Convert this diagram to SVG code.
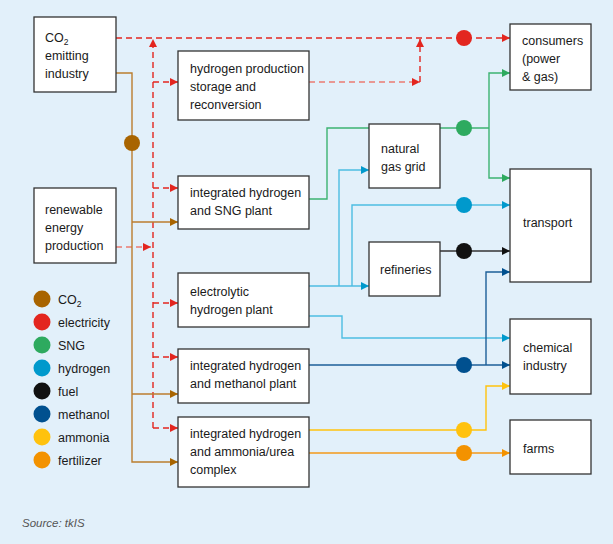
<svg xmlns="http://www.w3.org/2000/svg" width="613" height="544" viewBox="0 0 613 544">
<style>
.box{fill:#fff;stroke:#333;stroke-width:1.3}
.t{font-family:"Liberation Sans",Arial,sans-serif;font-size:12.5px;fill:#1a1a1a}
.ln{fill:none;stroke-width:1.4}
.red{stroke:#e3261f;stroke-dasharray:6 4}
.redl{stroke:#ec7b72;stroke-dasharray:6 4}
.brown{stroke:#bb7d2e}
.green{stroke:#3cb371}
.h2{stroke:#4dbde2}
.fuel{stroke:#333}
.meth{stroke:#1d5f98}
.amm{stroke:#ffc20e}
.fert{stroke:#f39a1a}
</style>
<defs>
<marker id="aRed" viewBox="0 0 8 8" refX="8" refY="4" markerWidth="8" markerHeight="8" markerUnits="userSpaceOnUse" orient="auto"><path d="M0,0L8,4L0,8z" fill="#e3261f"/></marker>
<marker id="aBrown" viewBox="0 0 8 8" refX="8" refY="4" markerWidth="8" markerHeight="8" markerUnits="userSpaceOnUse" orient="auto"><path d="M0,0L8,4L0,8z" fill="#a86400"/></marker>
<marker id="aGreen" viewBox="0 0 8 8" refX="8" refY="4" markerWidth="8" markerHeight="8" markerUnits="userSpaceOnUse" orient="auto"><path d="M0,0L8,4L0,8z" fill="#2eaa5f"/></marker>
<marker id="aH2" viewBox="0 0 8 8" refX="8" refY="4" markerWidth="8" markerHeight="8" markerUnits="userSpaceOnUse" orient="auto"><path d="M0,0L8,4L0,8z" fill="#0099cc"/></marker>
<marker id="aFuel" viewBox="0 0 8 8" refX="8" refY="4" markerWidth="8" markerHeight="8" markerUnits="userSpaceOnUse" orient="auto"><path d="M0,0L8,4L0,8z" fill="#111"/></marker>
<marker id="aMeth" viewBox="0 0 8 8" refX="8" refY="4" markerWidth="8" markerHeight="8" markerUnits="userSpaceOnUse" orient="auto"><path d="M0,0L8,4L0,8z" fill="#00508f"/></marker>
<marker id="aAmm" viewBox="0 0 8 8" refX="8" refY="4" markerWidth="8" markerHeight="8" markerUnits="userSpaceOnUse" orient="auto"><path d="M0,0L8,4L0,8z" fill="#ffc20e"/></marker>
<marker id="aFert" viewBox="0 0 8 8" refX="8" refY="4" markerWidth="8" markerHeight="8" markerUnits="userSpaceOnUse" orient="auto"><path d="M0,0L8,4L0,8z" fill="#f39200"/></marker>
</defs>
<rect width="613" height="544" fill="#e2f0fa"/>

<g id="connectors">
  <!-- electricity -->
  <path class="ln red" d="M116,38H510" marker-end="url(#aRed)"/>
  <path class="ln red" d="M153,428V39" marker-end="url(#aRed)"/>
  <path class="ln red" d="M153,82H178" marker-end="url(#aRed)"/>
  <path class="ln red" d="M153,188H178" marker-end="url(#aRed)"/>
  <path class="ln red" d="M153,303H178" marker-end="url(#aRed)"/>
  <path class="ln red" d="M153,357H178" marker-end="url(#aRed)"/>
  <path class="ln red" d="M153,428H178" marker-end="url(#aRed)"/>
  <path class="ln redl" d="M116,247H151" marker-end="url(#aRed)"/>
  <path class="ln redl" d="M309,82H420" marker-end="url(#aRed)"/>
  <path class="ln red" d="M420,82V39" marker-end="url(#aRed)"/>
  <!-- CO2 -->
  <path class="ln brown" d="M116,73H132V462H178" marker-end="url(#aBrown)"/>
  <path class="ln brown" d="M132,222H178" marker-end="url(#aBrown)"/>
  <path class="ln brown" d="M132,394H178" marker-end="url(#aBrown)"/>
  <!-- SNG -->
  <path class="ln green" d="M309,199H327V128H369"/>
  <path class="ln green" d="M440,128H489"/>
  <path class="ln green" d="M489,128V73H510" marker-end="url(#aGreen)"/>
  <path class="ln green" d="M489,128V178H510" marker-end="url(#aGreen)"/>
  <!-- hydrogen -->
  <path class="ln h2" d="M309,286H369" marker-end="url(#aH2)"/>
  <path class="ln h2" d="M339,286V170H369" marker-end="url(#aH2)"/>
  <path class="ln h2" d="M352,286V205H510" marker-end="url(#aH2)"/>
  <path class="ln h2" d="M309,316H342V338H510" marker-end="url(#aH2)"/>
  <!-- fuel -->
  <path class="ln fuel" d="M440,251H510" marker-end="url(#aFuel)"/>
  <!-- methanol -->
  <path class="ln meth" d="M309,365H510" marker-end="url(#aMeth)"/>
  <path class="ln meth" d="M486,365V272H510" marker-end="url(#aMeth)"/>
  <!-- ammonia -->
  <path class="ln amm" d="M309,430H486V386H510" marker-end="url(#aAmm)"/>
  <!-- fertilizer -->
  <path class="ln fert" d="M309,453H510" marker-end="url(#aFert)"/>
  <!-- flow dots -->
  <circle cx="464" cy="38" r="8" fill="#e3261f"/>
  <circle cx="132" cy="143" r="8" fill="#a86400"/>
  <circle cx="464" cy="128" r="8" fill="#2eaa5f"/>
  <circle cx="464" cy="205" r="8" fill="#0099cc"/>
  <circle cx="464" cy="251" r="8" fill="#111"/>
  <circle cx="464" cy="365" r="8" fill="#00508f"/>
  <circle cx="464" cy="430" r="8" fill="#ffc20e"/>
  <circle cx="464" cy="453" r="8" fill="#f39200"/>
</g>

<g id="co2-industry">
  <rect class="box" x="34" y="17" width="82" height="75"/>
  <text class="t" x="45" y="42">CO<tspan font-size="8.5" dy="3">2</tspan></text>
  <text class="t" x="45" y="60">emitting</text>
  <text class="t" x="45" y="78">industry</text>
</g>
<g id="renewable">
  <rect class="box" x="34" y="188" width="82" height="75"/>
  <text class="t" x="45" y="214">renewable</text>
  <text class="t" x="45" y="232">energy</text>
  <text class="t" x="45" y="250">production</text>
</g>
<g id="h2-storage">
  <rect class="box" x="178" y="51" width="131" height="69"/>
  <text class="t" x="190" y="73">hydrogen production</text>
  <text class="t" x="190" y="91">storage and</text>
  <text class="t" x="190" y="109">reconversion</text>
</g>
<g id="sng-plant">
  <rect class="box" x="178" y="176" width="131" height="53"/>
  <text class="t" x="190" y="197">integrated hydrogen</text>
  <text class="t" x="190" y="215">and SNG plant</text>
</g>
<g id="electrolytic">
  <rect class="box" x="178" y="273" width="131" height="54"/>
  <text class="t" x="190" y="296">electrolytic</text>
  <text class="t" x="190" y="314">hydrogen plant</text>
</g>
<g id="methanol-plant">
  <rect class="box" x="178" y="349" width="131" height="54"/>
  <text class="t" x="190" y="370">integrated hydrogen</text>
  <text class="t" x="190" y="388">and methanol plant</text>
</g>
<g id="ammonia-complex">
  <rect class="box" x="178" y="417" width="131" height="70"/>
  <text class="t" x="190" y="438">integrated hydrogen</text>
  <text class="t" x="190" y="456">and ammonia/urea</text>
  <text class="t" x="190" y="474">complex</text>
</g>
<g id="gas-grid">
  <rect class="box" x="369" y="124" width="71" height="64"/>
  <text class="t" x="381" y="153">natural</text>
  <text class="t" x="381" y="171">gas grid</text>
</g>
<g id="refineries">
  <rect class="box" x="369" y="242" width="71" height="54"/>
  <text class="t" x="380" y="274">refineries</text>
</g>
<g id="consumers">
  <rect class="box" x="510" y="24" width="81" height="66"/>
  <text class="t" x="522" y="45">consumers</text>
  <text class="t" x="522" y="63">(power</text>
  <text class="t" x="522" y="81">&amp; gas)</text>
</g>
<g id="transport">
  <rect class="box" x="510" y="169" width="81" height="113"/>
  <text class="t" x="523" y="227">transport</text>
</g>
<g id="chemical">
  <rect class="box" x="510" y="319" width="81" height="75"/>
  <text class="t" x="523" y="352">chemical</text>
  <text class="t" x="523" y="370">industry</text>
</g>
<g id="farms">
  <rect class="box" x="510" y="420" width="81" height="54"/>
  <text class="t" x="523" y="453">farms</text>
</g>

<g id="legend">
  <circle cx="42" cy="299" r="8.5" fill="#a86400"/>
  <text class="t" x="58" y="304">CO<tspan font-size="8.5" dy="3">2</tspan></text>
  <circle cx="42" cy="322" r="8.5" fill="#e3261f"/>
  <text class="t" x="58" y="327">electricity</text>
  <circle cx="42" cy="345" r="8.5" fill="#2eaa5f"/>
  <text class="t" x="58" y="350">SNG</text>
  <circle cx="42" cy="368" r="8.5" fill="#0099cc"/>
  <text class="t" x="58" y="373">hydrogen</text>
  <circle cx="42" cy="391" r="8.5" fill="#111"/>
  <text class="t" x="58" y="396">fuel</text>
  <circle cx="42" cy="414" r="8.5" fill="#00508f"/>
  <text class="t" x="58" y="419">methanol</text>
  <circle cx="42" cy="437" r="8.5" fill="#ffc20e"/>
  <text class="t" x="58" y="442">ammonia</text>
  <circle cx="42" cy="460" r="8.5" fill="#f39200"/>
  <text class="t" x="58" y="465">fertilizer</text>
</g>

<text x="22" y="527" font-family="Liberation Sans,Arial,sans-serif" font-size="11.5" font-style="italic" fill="#555">Source: tkIS</text>
</svg>
